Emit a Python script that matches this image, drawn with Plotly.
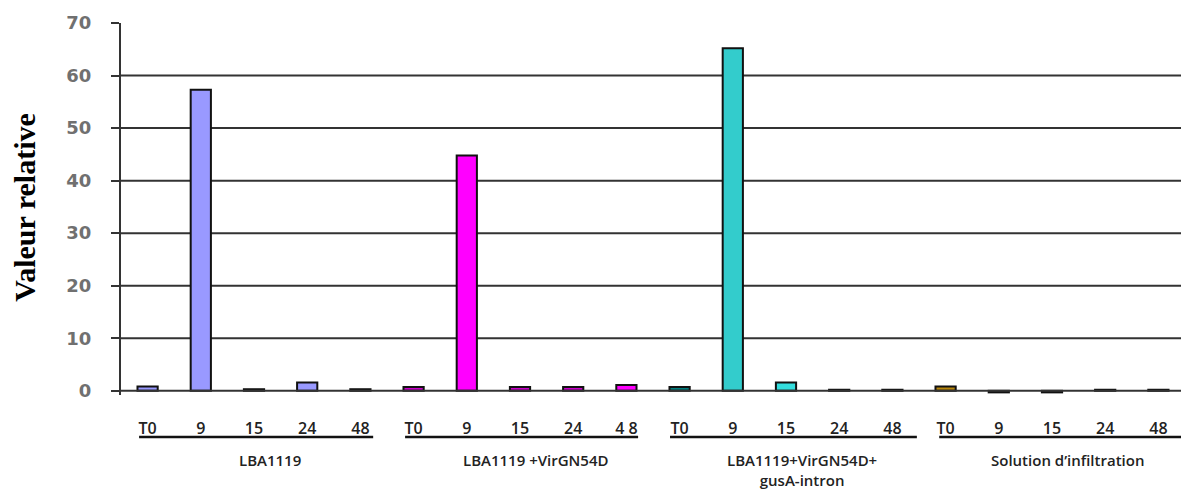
import plotly.graph_objects as go

groups = ["LBA1119", "LBA1119 +VirGN54D", "LBA1119+VirGN54D+<br>gusA-intron", "Solution d\u2019infiltration"]
times = ["T0", "9", "15", "24", "48"]
tick_labels = ["T0", "9", "15", "24", "48",
               "T0", "9", "15", "24", "4 8",
               "T0", "9", "15", "24", "48",
               "T0", "9", "15", "24", "48"]
values = [0.8, 57.3, 0.3, 1.6, 0.3,
          0.7, 44.8, 0.7, 0.7, 1.1,
          0.7, 65.2, 1.6, 0.2, 0.2,
          0.8, -0.3, -0.3, 0.2, 0.2]
colors = ["#9999FF", "#9999FF", "#222222", "#9999FF", "#222222",
          "#CC00CC", "#FF00FF", "#CC00CC", "#CC00CC", "#FF00FF",
          "#008080", "#33CCCC", "#33DDDD", "#222222", "#222222",
          "#B8860B", "#222222", "#222222", "#222222", "#222222"]
y_ticks = [0, 10, 20, 30, 40, 50, 60, 70]

n = len(values)
xs = list(range(n))

fig = go.Figure()
fig.add_trace(go.Bar(
    x=xs, y=values,
    marker=dict(color=colors, line=dict(color="#111111", width=2)),
    width=0.38,
    showlegend=False,
))

shapes = []
for v in y_ticks[1:-1]:
    shapes.append(dict(type="line", xref="paper", yref="y", x0=0, x1=1, y0=v, y1=v,
                       line=dict(color="#333333", width=2), layer="below"))
shapes.append(dict(type="line", xref="paper", yref="y", x0=0, x1=1, y0=0, y1=0,
                   line=dict(color="#333333", width=2), layer="above"))

line_spans = [(-0.16, 4.24), (4.84, 9.22), (9.82, 14.46), (14.88, 19.52)]
label_font = dict(family="Open Sans, DejaVu Sans", size=15, color="#222222", weight=600)
annotations = []
for gi, (name, (a, b)) in enumerate(zip(groups, line_spans)):
    shapes.append(dict(type="line", xref="x", yref="paper", x0=a, x1=b, y0=-0.113, y1=-0.113,
                       line=dict(color="#111111", width=2.5)))
    center = gi * len(times) + (len(times) - 1) / 2
    annotations.append(dict(x=center + 0.3, y=-0.143, xref="x", yref="paper",
                            text=name, showarrow=False, yanchor="top",
                            font=label_font))

annotations.append(dict(x=-0.0915, y=0.505, xref="paper", yref="paper", text="<b>Valeur relative</b>",
                        textangle=-90, showarrow=False, xanchor="center", yanchor="middle",
                        font=dict(family="Liberation Serif, Times New Roman", size=30, color="#000000")))

fig.update_layout(
    width=1181, height=485,
    margin=dict(l=113, r=4, t=15, b=98),
    paper_bgcolor="#ffffff", plot_bgcolor="#ffffff",
    shapes=shapes, annotations=annotations,
    xaxis=dict(range=[-0.5, n - 0.5], tickvals=xs, ticktext=tick_labels,
               showgrid=False, zeroline=False, showline=False,
               ticks="", ticklabelstandoff=22,
               tickfont=dict(family="Open Sans, DejaVu Sans", size=16, color="#222222", weight=600)),
    yaxis=dict(range=[-0.8, 70], tickvals=y_ticks, showgrid=False, zeroline=False,
               showline=True, linecolor="#333333", linewidth=2,
               ticks="outside", ticklen=8, tickcolor="#333333", tickwidth=2,
               ticklabelstandoff=16,
               tickfont=dict(family="DejaVu Sans", size=18, color="#707070", weight="bold")),
)

fig.write_html("out.html")
